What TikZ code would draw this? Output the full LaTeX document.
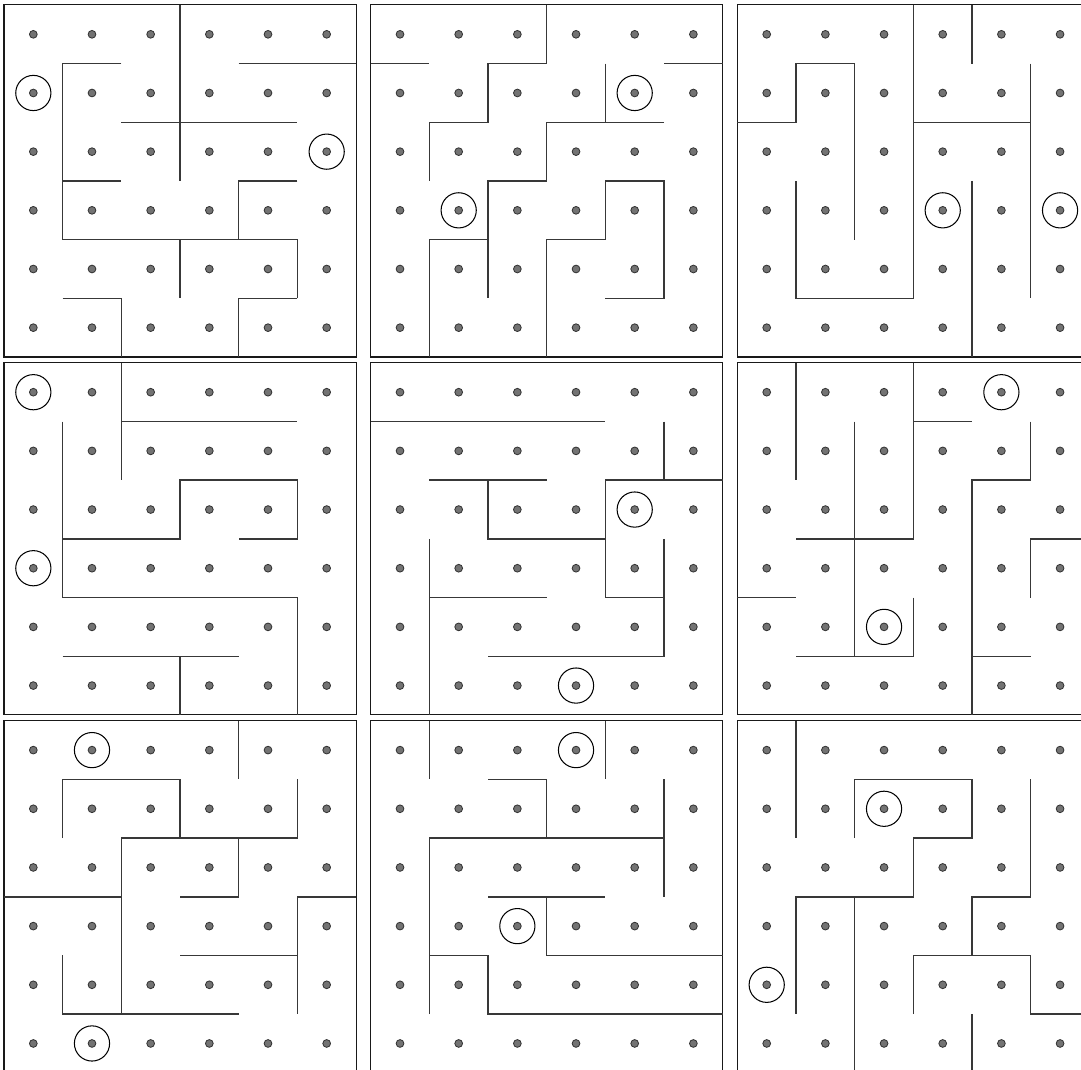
\documentclass[tikz,border=0pt]{standalone}
\usepackage{tikz}

% box and dots of one 6x6 maze
\newcommand{\mazegrid}{%
  \draw[frame] (0,0) rectangle (6,6);
  \foreach \i in {0,...,5}
    \foreach \j in {0,...,5}
      \fill[dot] (\i+0.5,\j+0.5) circle (0.066);
}

\begin{document}
\begin{tikzpicture}[
frame/.style={draw=black!90,line width=0.5pt},
wall/.style={draw=black!78,line width=0.7pt},
dot/.style={fill=black!55,draw=black!80,line width=0.4pt},
goal/.style={draw=black,line width=0.5pt},
panel/.style 2 args={shift={(6.25*#1,-6.1*#2)},yscale=-1}
]
\useasboundingbox (-0.068,0.085) rectangle (18.357,-18.152);

% maze 1
\begin{scope}[panel={0}{0}]
\mazegrid
\draw[wall] (3,0)--(3,3) (2,1)--(1,1)--(1,4)--(5,4)--(5,5)
  (4,1)--(6,1) (2,2)--(5,2) (1,3)--(2,3) (5,3)--(4,3)--(4,4)
  (3,4)--(3,5) (1,5)--(2,5)--(2,6) (5,5)--(4,5)--(4,6);
\draw[goal] (0.5,1.5) circle (0.3) (5.5,2.5) circle (0.3);
\end{scope}

% maze 2
\begin{scope}[panel={1}{0}]
\mazegrid
\draw[wall] (0,1)--(1,1) (3,0)--(3,1)--(2,1)--(2,2)--(1,2)--(1,3)
  (5,1)--(6,1) (4,1)--(4,2) (5,2)--(3,2)--(3,3)--(2,3)--(2,5)
  (2,4)--(1,4)--(1,6) (4,5)--(5,5)--(5,3)--(4,3)--(4,4)--(3,4)--(3,6);
\draw[goal] (4.5,1.5) circle (0.3) (1.5,3.5) circle (0.3);
\end{scope}

% maze 3
\begin{scope}[panel={2}{0}]
\mazegrid
\draw[wall] (3,0)--(3,5)--(1,5)--(1,3) (0,2)--(1,2)--(1,1)--(2,1)--(2,4)
  (4,0)--(4,1) (3,2)--(5,2) (5,1)--(5,5) (4,3)--(4,6);
\draw[goal] (3.5,3.5) circle (0.3) (5.5,3.5) circle (0.3);
\end{scope}

% maze 4
\begin{scope}[panel={0}{1}]
\mazegrid
\draw[wall] (2,0)--(2,2) (2,1)--(5,1) (1,1)--(1,4)--(5,4)--(5,6)
  (1,3)--(3,3)--(3,2)--(5,2)--(5,3)--(4,3) (1,5)--(4,5) (3,5)--(3,6);
\draw[goal] (0.5,0.5) circle (0.3) (0.5,3.5) circle (0.3);
\end{scope}

% maze 5
\begin{scope}[panel={1}{1}]
\mazegrid
\draw[wall] (0,1)--(4,1) (5,1)--(5,2) (6,2)--(4,2)--(4,4)--(5,4)
  (5,3)--(5,5)--(2,5) (1,2)--(3,2) (2,2)--(2,3)--(4,3)
  (1,3)--(1,6) (1,4)--(3,4);
\draw[goal] (4.5,2.5) circle (0.3) (3.5,5.5) circle (0.3);
\end{scope}

% maze 6
\begin{scope}[panel={2}{1}]
\mazegrid
\draw[wall] (1,0)--(1,2) (3,0)--(3,3)--(1,3) (3,1)--(4,1) (2,1)--(2,5)
  (5,1)--(5,2)--(4,2)--(4,6) (6,3)--(5,3)--(5,4) (0,4)--(1,4)
  (3,4)--(3,5)--(1,5) (4,5)--(5,5);
\draw[goal] (4.5,0.5) circle (0.3) (2.5,4.5) circle (0.3);
\end{scope}

% maze 7
\begin{scope}[panel={0}{2}]
\mazegrid
\draw[wall] (4,0)--(4,1) (1,2)--(1,1)--(3,1)--(3,2) (5,1)--(5,2)--(2,2)--(2,5)
  (0,3)--(2,3) (3,3)--(4,3)--(4,2) (6,3)--(5,3)--(5,5) (3,4)--(5,4)
  (1,4)--(1,5)--(4,5);
\draw[goal] (1.5,0.5) circle (0.3) (1.5,5.5) circle (0.3);
\end{scope}

% maze 8
\begin{scope}[panel={1}{2}]
\mazegrid
\draw[wall] (1,0)--(1,1) (4,0)--(4,1) (2,1)--(3,1)--(3,2) (5,1)--(5,3)
  (1,5)--(1,2)--(5,2) (2,3)--(4,3) (3,3)--(3,4)--(6,4)
  (1,4)--(2,4)--(2,5)--(6,5);
\draw[goal] (3.5,0.5) circle (0.3) (2.5,3.5) circle (0.3);
\end{scope}

% maze 9
\begin{scope}[panel={2}{2}]
\mazegrid
\draw[wall] (1,0)--(1,2) (2,2)--(2,1)--(4,1)--(4,2)--(3,2)--(3,3)--(1,3)--(1,5)
  (2,3)--(2,6) (5,1)--(5,3)--(4,3)--(4,4) (3,5)--(3,4)--(5,4)--(5,5)--(6,5)
  (4,5)--(4,6);
\draw[goal] (2.5,1.5) circle (0.3) (0.5,4.5) circle (0.3);
\end{scope}

\end{tikzpicture}
\end{document}
